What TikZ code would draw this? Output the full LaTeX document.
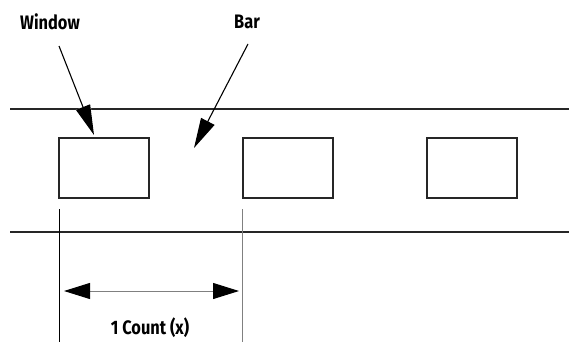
\documentclass[tikz,border=0pt]{standalone}
\usepackage{fontspec}
\setmainfont{Fira Sans}[FakeStretch=0.84]
\usetikzlibrary{arrows.meta, positioning}
\tikzset{
  head/.tip      = {Triangle[length=30pt, width=15pt]},
  >=head,
  rail/.style    = {line width=2.8pt, black!85},
  window/.style  = {draw, black!85, line width=1.3pt, rectangle,
                    minimum width=90pt, minimum height=60pt, inner sep=0pt},
  label/.style   = {font=\bfseries\fontsize{19.5}{22}\selectfont, inner sep=1pt},
  pointer/.style = {->, line width=1.1pt},
  halo/.style    = {-{Triangle[length=30pt, width=15pt, line width=4pt]},
                    line width=4pt, white},
  guide/.style   = {line width=0.8pt},
  span/.style    = {{Triangle[length=26pt, width=16pt, color=black]}-%
                    {Triangle[length=26pt, width=16pt, color=black]},
                    line width=1pt, gray},
}
\begin{document}
\begin{tikzpicture}[x=1pt, y=-1pt]
  \useasboundingbox (0,0) rectangle (569,345);

  % rails of the code strip
  \draw[rail] (10,109) -- (569,109);
  \draw[rail] (10,232) -- (569,232);

  % windows
  \node[window] (w1) at (104,168) {};
  \node[window] (w2) at (288,168) {};
  \node[window] (w3) at (472,168) {};

  % labels and pointers
  \node[label] (lwin) at (50,22)  {Window};
  \node[label] (lbar) at (247,22) {Bar};
  \coordinate (wstart) at (59,46);
  \coordinate (wtip)   at (94,135);
  \coordinate (bstart) at (248,44);
  \coordinate (btip)   at (194,148);
  \draw[halo]    (wstart) -- (wtip);
  \draw[pointer] (wstart) -- (wtip);
  \draw[pointer] (bstart) -- (btip);

  % one count
  \coordinate (g1) at (59,209);
  \coordinate (g2) at (242,209);
  \draw[guide]       (g1) -- ++(0,133);
  \draw[guide, gray] (g2) -- ++(0,133);
  \coordinate (d1) at (64,291);
  \coordinate (d2) at (239,291);
  \draw[span] (d1) -- (d2);
  \node[label] (lcount) at (150,328) {1 Count (x)};
\end{tikzpicture}
\end{document}
